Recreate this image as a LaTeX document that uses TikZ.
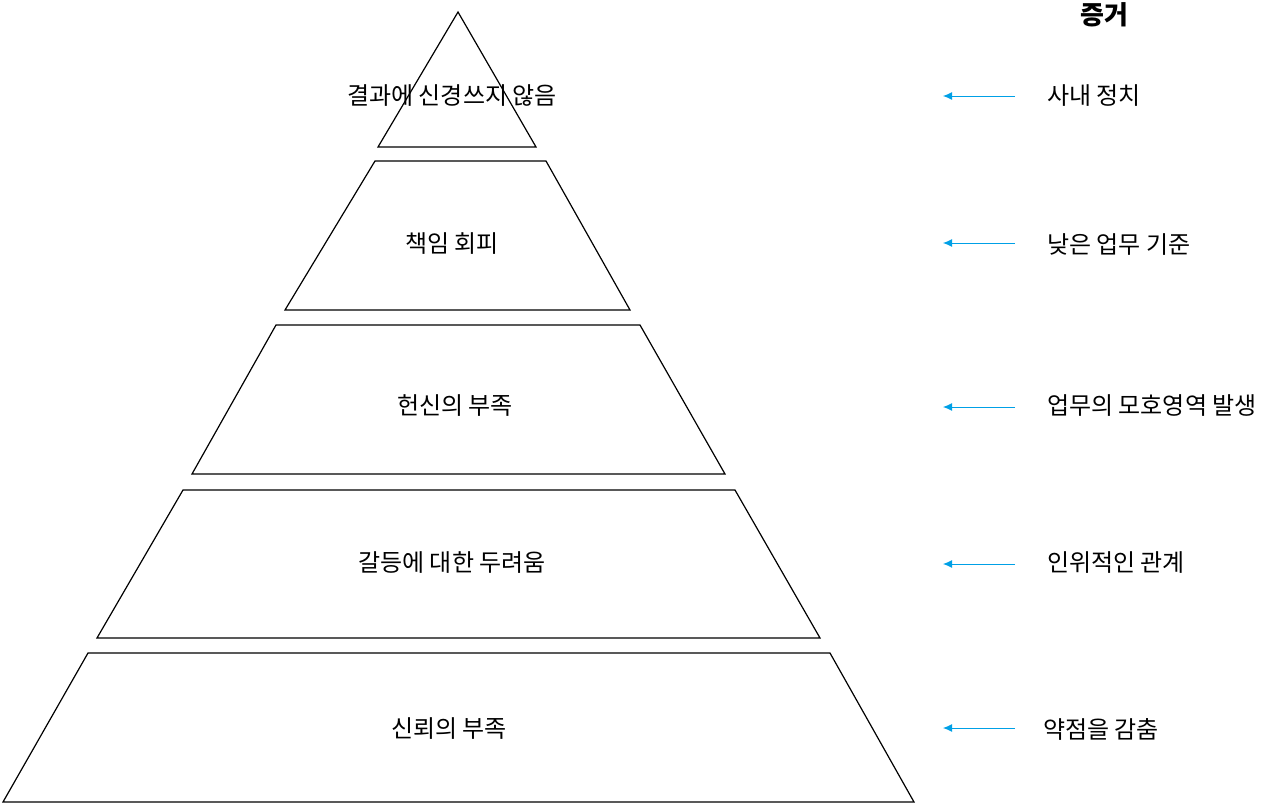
\documentclass[tikz,border=0pt]{standalone}
\usepackage{fontspec}
\setmainfont{Noto Sans CJK KR}
\begin{document}
\begin{tikzpicture}[x=1pt,y=-1pt,
  lvl/.style={draw=black,line width=1.2pt,line join=miter},
  lab/.style={font=\fontsize{24}{28}\selectfont,inner sep=0pt},
  ev/.style={font=\fontsize{24}{28}\selectfont,anchor=west,inner sep=0pt},
  arr/.style={draw={rgb,255:red,0;green,160;blue,230},line width=1pt,-{Latex[length=9pt,width=8pt]}}]
\useasboundingbox (0,0) rectangle (1280,804);
\usetikzlibrary{arrows.meta}
\draw[lvl] (458,12) -- (536,147) -- (378,147) -- cycle;
\draw[lvl] (375,161) -- (546,161) -- (630,310) -- (285,310) -- cycle;
\draw[lvl] (276,325) -- (640,325) -- (725,474) -- (192,474) -- cycle;
\draw[lvl] (183,490) -- (735,490) -- (820,638) -- (97,638) -- cycle;
\draw[lvl] (88,653) -- (830,653) -- (914,802) -- (3,802) -- cycle;
\node[lab] (l1) at (452,96) {결과에 신경쓰지 않음};
\node[lab] (l2) at (452,244) {책임 회피};
\node[lab] (l3) at (455,406) {헌신의 부족};
\node[lab] (l4) at (452,563) {갈등에 대한 두려움};
\node[lab] (l5) at (449,729) {신뢰의 부족};
\node[font=\fontsize{26}{30}\selectfont\bfseries,inner sep=0pt] (h) at (1104,15) {증거};
\node[ev] (e1) at (1047,96) {사내 정치};
\node[ev] (e2) at (1047,244) {낮은 업무 기준};
\node[ev] (e3) at (1047,406) {업무의 모호영역 발생};
\node[ev] (e4) at (1047,563) {인위적인 관계};
\node[ev] (e5) at (1043,729) {약점을 감춤};
\foreach \i/\y in {1/96,2/243,3/407,4/564,5/728}{
  \coordinate (s\i) at (1015,\y); \coordinate (t\i) at (943,\y);
  \draw[arr] (s\i) -- (t\i);}
\end{tikzpicture}
\end{document}
